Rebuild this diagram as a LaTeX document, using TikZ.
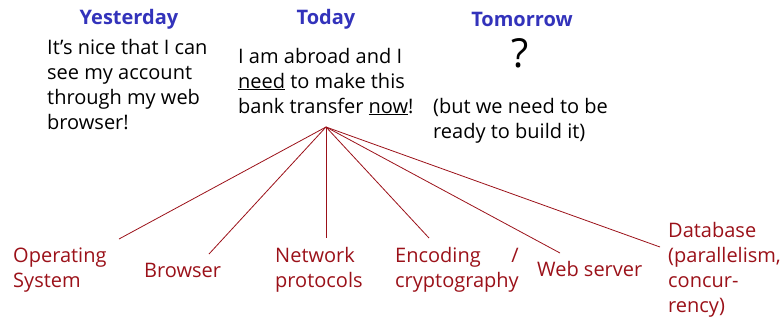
\documentclass[tikz,border=0pt]{standalone}
\usepackage{fontspec}
\setmainfont{Open Sans}
\usepackage{tikz}
\usetikzlibrary{positioning, calc}
\definecolor{cDay}{RGB}{51,51,187}
\definecolor{cTopic}{RGB}{155,17,25}
\newlength\cryptowd
\tikzset{
    daytitle/.style ={font=\fontsize{20}{25}\selectfont\bfseries, text=cDay, inner sep=0pt, anchor=base},
    story/.style    ={font=\fontsize{20}{25}\selectfont, align=left, inner sep=0pt, anchor=base west},
    topic/.style    ={font=\fontsize{20}{25}\selectfont, text=cTopic, align=left, inner sep=0pt, anchor=base west},
    topicline/.style={draw=cTopic, line width=0.8pt},
}

\begin{document}
\begin{tikzpicture}[x=1pt, y=-1pt]
    \useasboundingbox (0,0) rectangle (782,322);
    % the three days (multi-line nodes sit on their last baseline)
    \node[daytitle] (yest) at (129,24) {Yesterday};
    \node[daytitle] (today) at (326,24) {Today};
    \node[daytitle] (tomo) at (522,26) {Tomorrow};
    \node[story] (yestTxt) at (47,129) {It’s nice that I can\\see my account\\through my web\\browser!};
    \node[story] (todayTxt) at (238,113) {I am abroad and I\\\underline{need} to make this\\bank transfer \underline{now}!};
    \node[daytitle, font=\fontsize{40}{40}\selectfont, text=black] (quest) at (520,67) {?};
    \node[story] (tomoTxt) at (433,138) {(but we need to be\\ready to build it)};
    % what it relies on
    \node[topic] (os) at (13,287) {Operating\\System};
    \node[topic] (brw) at (144,277) {Browser};
    \node[topic] (net) at (275,287) {Network\\protocols};
    \node[topic] (enc) at (395,287) {\settowidth\cryptowd{cryptography}\makebox[\cryptowd][s]{Encoding /}\\cryptography};
    \node[topic] (web) at (537,276) {Web server};
    \node[topic] (db) at (668,312) {Database\\(parallelism,\\concur-\\rency)};
    \coordinate (hub) at (326,127);
    \coordinate (osTip) at (119,239);
    \coordinate (brwTip) at (209,254);
    \coordinate (netTip) at (326,238);
    \coordinate (encTip) at (429,238);
    \coordinate (webTip) at (560,253);
    \coordinate (dbTip) at (660,247);
    \foreach \t in {osTip, brwTip, netTip, encTip, webTip, dbTip}
        \draw[topicline] (hub) -- (\t);
\end{tikzpicture}
\end{document}
